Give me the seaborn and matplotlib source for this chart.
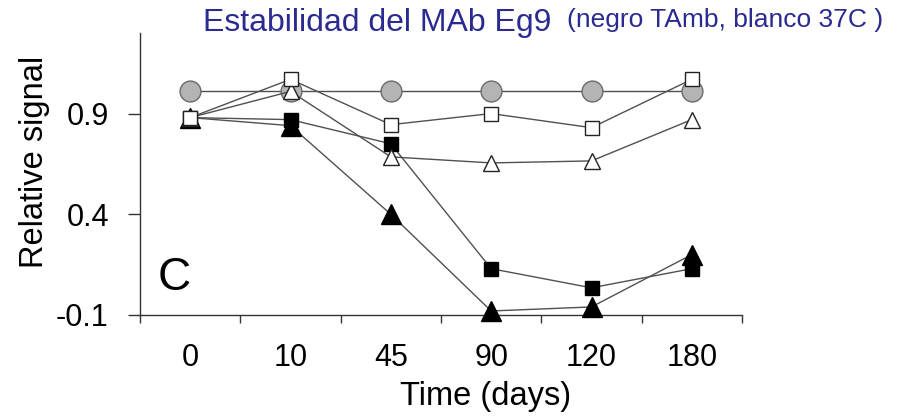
import numpy as np
import pandas as pd
import matplotlib
matplotlib.use("Agg")
import matplotlib.pyplot as plt
import seaborn as sns

# ---- data ----
days = ["0", "10", "45", "90", "120", "180"]
gray_circle = [1.01, 1.01, 1.01, 1.01, 1.01, 1.01]
black_triangle = [0.88, 0.84, 0.40, -0.08, -0.06, 0.20]
black_square = [0.88, 0.87, 0.75, 0.13, 0.035, 0.13]
open_triangle = [0.88, 1.01, 0.685, 0.655, 0.665, 0.87]
open_square = [0.88, 1.07, 0.845, 0.90, 0.83, 1.07]
ytick_vals = [-0.1, 0.4, 0.9]
ytick_labels = ["-0.1", "0.4", "0.9"]

sns.set_style("ticks")
plt.rcParams["font.family"] = ["Liberation Sans", "DejaVu Sans"]
plt.rcParams["text.color"] = "black"
plt.rcParams["axes.labelcolor"] = "black"
plt.rcParams["xtick.labelcolor"] = "black"
plt.rcParams["ytick.labelcolor"] = "black"

W, H = 905, 416
fig = plt.figure(figsize=(W / 100, H / 100), dpi=100)
ax = fig.add_axes([140 / W, 1 - 315 / H, 602 / W, 282 / H])

pos = np.arange(len(days))
line_col = "#505050"
series = [
    (gray_circle, "o", 15, "#b4b4b4", "#6a6a6a"),
    (black_triangle, "^", 14.5, "black", "black"),
    (black_square, "s", 10.5, "black", "black"),
    (open_triangle, "^", 11, "white", "#222222"),
    (open_square, "s", 10.5, "white", "#222222"),
]
for i, (vals, mk, ms, fc, ec) in enumerate(series):
    df = pd.DataFrame({"pos": pos, "val": vals})
    sns.lineplot(data=df, x="pos", y="val", ax=ax, sort=False, errorbar=None,
                 color=line_col, linewidth=1.0, marker=mk, markersize=ms,
                 markerfacecolor=fc, markeredgecolor=ec, markeredgewidth=1.0,
                 clip_on=False, zorder=3 + i)

ax.set_xlim(-0.5, len(days) - 0.5)
ax.set_ylim(-0.1, 1.3)

# x: ticks at category boundaries, labels at centres
ax.set_xticks(np.arange(-0.5, len(days)), labels=[""] * (len(days) + 1))
ax.set_xticks(pos, labels=days, minor=True)
ax.tick_params(axis="x", which="major", direction="out", length=6, width=1.0, color="#333333")
ax.tick_params(axis="x", which="minor", length=0, pad=20, labelsize=22, labelcolor="black")

ax.set_yticks(ytick_vals, labels=ytick_labels)
ax.tick_params(axis="y", direction="out", length=8.5, width=1.0, color="#333333",
               pad=14, labelsize=22, labelcolor="black")

for s in ["top", "right"]:
    ax.spines[s].set_visible(False)
for s in ["left", "bottom"]:
    ax.spines[s].set_color("#333333")
    ax.spines[s].set_linewidth(1.0)

ax.set_xlabel("Time (days)", fontsize=23.5, color="black")
ax.xaxis.set_label_coords((486 - 140) / 602, (315 - 381) / 282)
ax.set_ylabel("Relative signal", fontsize=23.5, color="black")
ax.yaxis.set_label_coords((50 - 140) / 602, (315 - 162) / 282)

ax.text((158 - 140) / 602, (315 - 290) / 282, "C", transform=ax.transAxes,
        fontsize=33, ha="left", va="baseline", color="black")

title_col = "#2a2a90"
fig.text(203 / W, 1 - 31.5 / H, "Estabilidad del MAb Eg9", fontsize=23,
         color=title_col, ha="left", va="baseline")
fig.text(567 / W, 1 - 27 / H, "(negro TAmb, blanco 37C )", fontsize=19,
         color=title_col, ha="left", va="baseline")

fig.savefig("out.png", dpi=100, facecolor="white")
